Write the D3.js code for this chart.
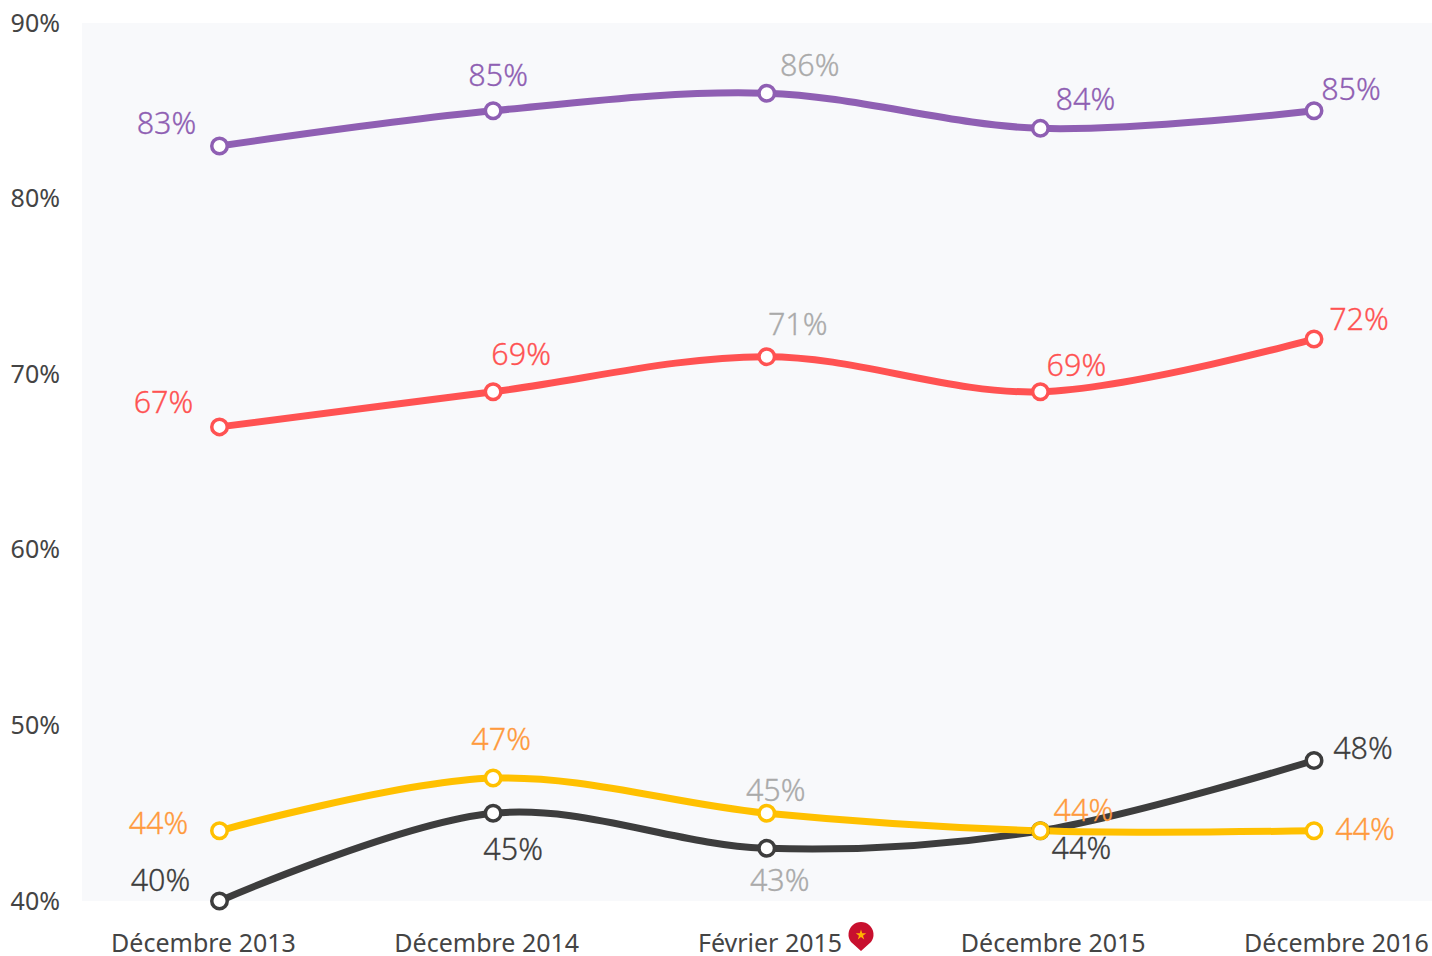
<!DOCTYPE html>
<html>
<head>
<meta charset="utf-8">
<script src="https://cdn.jsdelivr.net/npm/d3@7"></script>
<style>
  html, body { margin: 0; padding: 0; background: #fff; overflow: hidden; }
  text { font-family: "Noto Sans", sans-serif; }
</style>
</head>
<body>
<script>
const categories = ["Décembre 2013", "Décembre 2014", "Février 2015", "Décembre 2015", "Décembre 2016"];
const yTicks = [40, 50, 60, 70, 80, 90];

const purpleValues = [83, 85, 86, 84, 85];
const redValues = [67, 69, 71, 69, 72];
const blackValues = [40, 45, 43, 44, 48];
const yellowValues = [44, 47, 45, 44, 44];

// label nudges from each point, by hand
const purpleOffsets = [[-53, -22], [5, -35], [43, -28], [45, -29], [37, -21]];
const redOffsets = [[-56, -24], [28, -37], [31, -32], [36, -26], [45, -19]];
const blackOffsets = [[-59, -20], [20, 36], [13, 32], [41, 18], [49, -12]];
const yellowOffsets = [[-61, -7], [8, -38], [9, -23], [43, -20], [51, -1]];

const width = 1432, height = 956;
const highlighted = 2; // the Février 2015 labels are grey

const series = [
  { values: purpleValues, offsets: purpleOffsets, color: "#8f5fb3", label: "#8f5fb3" },
  { values: redValues, offsets: redOffsets, color: "#ff5252", label: "#ff5252" },
  { values: blackValues, offsets: blackOffsets, color: "#3d3d3d", label: "#3d3d3d" },
  { values: yellowValues, offsets: yellowOffsets, color: "#ffc000", label: "#ff9a3d" }
];

const svg = d3.select("body").append("svg")
    .attr("width", width)
    .attr("height", height)
    .style("display", "block");

const x = d3.scalePoint().domain(categories).range([219.5, 1314]);
const y = d3.scaleLinear().domain([40, 90]).range([901, 23]);
const xLabels = d3.scalePoint().domain(categories).range([203, 1336]);

svg.append("rect")
    .attr("x", 82)
    .attr("y", y(90))
    .attr("width", width - 82)
    .attr("height", y(40) - y(90))
    .attr("fill", "#f8f9fb");

const yAxis = svg.append("g")
    .attr("transform", "translate(60,0)")
    .call(d3.axisLeft(y).tickValues(yTicks).tickSize(0).tickPadding(0).tickFormat(d => d + "%"));
yAxis.select(".domain").remove();
yAxis.selectAll("text")
    .attr("font-size", 25)
    .attr("fill", "#444")
    .style("font-family", "'Noto Sans', sans-serif");

const xAxis = svg.append("g")
    .attr("transform", "translate(0,934)")
    .call(d3.axisBottom(xLabels).tickSize(0).tickPadding(0));
xAxis.select(".domain").remove();
xAxis.selectAll("text")
    .attr("font-size", 25)
    .attr("fill", "#444")
    .style("font-family", "'Noto Sans', sans-serif");

const line = d3.line()
    .x((d, i) => x(categories[i]))
    .y(d => y(d))
    .curve(d3.curveCardinal.tension(0));

series.forEach(s => {
  svg.append("path")
      .attr("d", line(s.values))
      .attr("fill", "none")
      .attr("stroke", s.color)
      .attr("stroke-width", 7);
});

series.forEach(s => {
  svg.append("g").selectAll("circle")
      .data(s.values)
      .join("circle")
      .attr("cx", (d, i) => x(categories[i]))
      .attr("cy", d => y(d))
      .attr("r", 7.75)
      .attr("fill", "#fff")
      .attr("stroke", s.color)
      .attr("stroke-width", 3.5);

  svg.append("g").selectAll("text")
      .data(s.values)
      .join("text")
      .attr("x", (d, i) => x(categories[i]) + s.offsets[i][0])
      .attr("y", (d, i) => y(d) + s.offsets[i][1])
      .attr("dy", "0.34em")
      .attr("text-anchor", "middle")
      .attr("font-size", 30.5)
      .attr("font-weight", 300)
      .attr("fill", (d, i) => i === highlighted ? "#aaa" : s.label)
      .attr("stroke", (d, i) => i === highlighted ? "#aaa" : s.label)
      .attr("stroke-width", 0.3)
      .text(d => d + "%");
});

// pin next to Février 2015
const pin = svg.append("g").attr("transform", "translate(861,935)");
pin.append("path")
    .attr("d", "M0,16 L-10,7 A12.5,12.5 0 1 1 10,7 Z")
    .attr("fill", "#c8102e");
pin.append("path")
    .attr("d", d3.symbol(d3.symbolStar, 34)())
    .attr("fill", "#ffb400");
</script>
</body>
</html>
